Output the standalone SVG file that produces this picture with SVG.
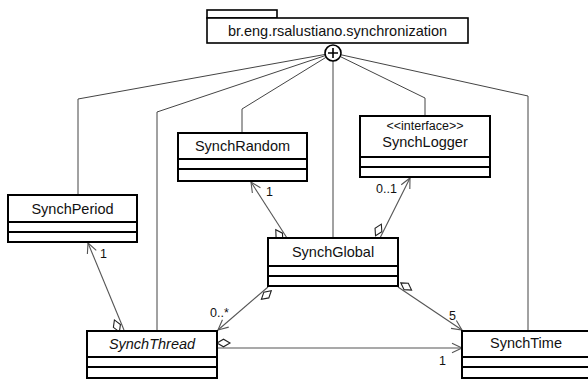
<svg xmlns="http://www.w3.org/2000/svg" width="588" height="380" viewBox="0 0 588 380">
<style>
.box{fill:#fff;stroke:#000;stroke-width:2}
.sep{stroke:#000;stroke-width:2}
.name{font-family:"Liberation Sans",Arial,sans-serif;font-size:14.5px;fill:#111;text-anchor:middle}
.ital{font-style:italic}
.st{font-family:"Liberation Sans",Arial,sans-serif;font-size:12.5px;fill:#111;text-anchor:middle}
.lbl{font-family:"Liberation Sans",Arial,sans-serif;font-size:12.5px;fill:#111}
.tree{fill:none;stroke:#444;stroke-width:1}
.assoc{fill:none;stroke:#555;stroke-width:1.1;marker-start:url(#dia);marker-end:url(#arr)}
.pkg{fill:#fff;stroke:#000;stroke-width:1.6}
</style>
<defs>
<marker id="dia" markerUnits="userSpaceOnUse" markerWidth="16" markerHeight="10" refX="0" refY="5" viewBox="0 -5 16 10" orient="auto" overflow="visible">
<path d="M0,0 L6.5,-3.8 L13,0 L6.5,3.8 Z" fill="#fff" stroke="#222" stroke-width="1.1"/>
</marker>
<marker id="arr" markerUnits="userSpaceOnUse" markerWidth="12" markerHeight="12" refX="0" refY="0" viewBox="-12 -6 12 12" orient="auto" overflow="visible">
<path d="M-10,-4.8 L0,0 L-10,4.8" fill="none" stroke="#555" stroke-width="1.1"/>
</marker>
</defs>

<g id="connectors">
<polyline class="tree" points="333,53 78,99 78,195"/>
<polyline class="tree" points="333,53 157,112 157,331"/>
<polyline class="tree" points="333,53 242,109 242,133"/>
<polyline class="tree" points="333,53 333,238"/>
<polyline class="tree" points="333,53 425,98 425,116"/>
<polyline class="tree" points="333,53 528,96 528,331"/>
<path class="assoc" d="M287,238 L251,182"/>
<path class="assoc" d="M380,238 L410,178"/>
<path class="assoc" d="M124,330 L88,243"/>
<path class="assoc" d="M268,287 L218,330"/>
<path class="assoc" d="M398,287 L462,330"/>
<path class="assoc" d="M217,348 L462,348"/>
<text class="lbl" x="266" y="196">1</text>
<text class="lbl" x="376" y="193">0..1</text>
<text class="lbl" x="100" y="258">1</text>
<text class="lbl" x="210" y="317">0..*</text>
<text class="lbl" x="449" y="320">5</text>
<text class="lbl" x="439" y="365">1</text>
</g>

<g id="package">
<rect class="pkg" x="207" y="10" width="70" height="8"/>
<rect class="pkg" x="207" y="18" width="261" height="25"/>
<text class="name" x="337.5" y="35.5">br.eng.rsalustiano.synchronization</text>
<circle cx="333" cy="53" r="8" fill="#fff" stroke="#000" stroke-width="1.6"/>
<path d="M333,48 V58 M328,53 H338" stroke="#000" stroke-width="1.6"/>
</g>

<g id="SynchRandom">
<rect class="box" x="178" y="133" width="129" height="48"/>
<line class="sep" x1="178" y1="159" x2="307" y2="159"/>
<line class="sep" x1="178" y1="169" x2="307" y2="169"/>
<text class="name" x="242.5" y="151">SynchRandom</text>
</g>

<g id="SynchLogger">
<rect class="box" x="360" y="116" width="130" height="61"/>
<line class="sep" x1="360" y1="157" x2="490" y2="157"/>
<line class="sep" x1="360" y1="167" x2="490" y2="167"/>
<text class="st" x="425" y="130">&lt;&lt;interface&gt;&gt;</text>
<text class="name" x="425" y="147">SynchLogger</text>
</g>

<g id="SynchPeriod">
<rect class="box" x="8" y="195" width="129" height="47"/>
<line class="sep" x1="8" y1="222" x2="137" y2="222"/>
<line class="sep" x1="8" y1="232" x2="137" y2="232"/>
<text class="name" x="72.5" y="213.5">SynchPeriod</text>
</g>

<g id="SynchGlobal">
<rect class="box" x="268" y="238" width="130" height="48"/>
<line class="sep" x1="268" y1="266" x2="398" y2="266"/>
<line class="sep" x1="268" y1="276" x2="398" y2="276"/>
<text class="name" x="333" y="257">SynchGlobal</text>
</g>

<g id="SynchThread">
<rect class="box" x="87" y="331" width="130" height="47"/>
<line class="sep" x1="87" y1="357" x2="217" y2="357"/>
<line class="sep" x1="87" y1="367" x2="217" y2="367"/>
<text class="name ital" x="152" y="349">SynchThread</text>
</g>

<g id="SynchTime">
<rect class="box" x="462" y="331" width="130" height="47"/>
<line class="sep" x1="462" y1="357" x2="592" y2="357"/>
<line class="sep" x1="462" y1="367" x2="592" y2="367"/>
<text class="name" x="526" y="348">SynchTime</text>
</g>
</svg>
